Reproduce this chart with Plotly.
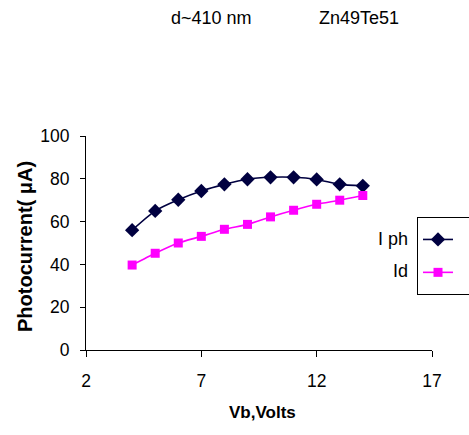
import plotly.graph_objects as go

vb = [4, 5, 6, 7, 8, 9, 10, 11, 12, 13, 14]
i_ph = [56, 65, 70.2, 74.3, 77.4, 79.8, 80.7, 80.7, 79.7, 77.4, 76.7]
i_d = [39.7, 45.2, 50.0, 53.1, 56.4, 58.7, 62.2, 65.3, 68.1, 70.0, 72.2]

x_ticks = [2, 7, 12, 17]
y_ticks = [0, 20, 40, 60, 80, 100]

FONT = "Liberation Sans, Arial, sans-serif"
W, H = 469, 435
L, R, T, B = 86, 37, 136, 85
pw, ph = W - L - R, H - T - B

def px_x(x):
    return (x - L) / pw

def px_y(y):
    return (H - B - y) / ph

fig = go.Figure()
fig.add_trace(go.Scatter(
    x=vb, y=i_ph, mode="lines+markers", name=" ",
    line=dict(color="#000040", width=1.6, shape="spline", smoothing=0.6),
    marker=dict(symbol="diamond", size=11, color="#000040"),
))
fig.add_trace(go.Scatter(
    x=vb, y=i_d, mode="lines+markers", name=" ",
    line=dict(color="#FF00FF", width=1.6, shape="spline", smoothing=0.6),
    marker=dict(symbol="square", size=9, color="#FF00FF"),
))

fig.update_layout(
    width=W, height=H,
    margin=dict(l=L, r=R, t=T, b=B, pad=0, autoexpand=False),
    paper_bgcolor="white", plot_bgcolor="white",
    font=dict(family=FONT, size=17, color="black"),
    showlegend=True,
    legend=dict(
        x=px_x(417), y=px_y(217), xanchor="left", yanchor="top",
        bordercolor="black", borderwidth=1, bgcolor="white",
        font=dict(size=23), itemwidth=30, tracegroupgap=0,
    ),
    xaxis=dict(
        range=[2, 17], tickvals=x_ticks, ticks="outside", ticklen=6,
        tickcolor="black", showline=True, linecolor="black", linewidth=1,
        showgrid=False, zeroline=False, ticklabelstandoff=9,
        tickfont=dict(size=17.5),
    ),
    yaxis=dict(
        range=[0, 100], tickvals=y_ticks, ticks="outside", ticklen=5,
        tickcolor="black", showline=True, linecolor="black", linewidth=1,
        showgrid=False, zeroline=False, ticklabelstandoff=7,
        tickfont=dict(size=17.5),
    ),
)

ann = [
    dict(text="d~410 nm", x=px_x(211), y=px_y(18), size=18, bold=False, anchor="center"),
    dict(text="Zn49Te51", x=px_x(359), y=px_y(18), size=18, bold=False, anchor="center"),
    dict(text="Vb,Volts", x=px_x(262), y=px_y(412), size=17, bold=True, anchor="center"),
    dict(text="I ph", x=px_x(410), y=px_y(239), size=18, bold=False, anchor="right"),
    dict(text="Id", x=px_x(410), y=px_y(271), size=18, bold=False, anchor="right"),
]
for a in ann:
    fig.add_annotation(
        text=("<b>%s</b>" % a["text"]) if a["bold"] else a["text"],
        x=a["x"], y=a["y"], xref="paper", yref="paper",
        xanchor=a["anchor"], yanchor="middle", showarrow=False,
        font=dict(family=FONT, size=a["size"], color="black"),
    )
fig.add_annotation(
    text="<b>Photocurrent( μA)</b>", x=px_x(25), y=px_y(247),
    xref="paper", yref="paper", xanchor="center", yanchor="middle",
    showarrow=False, textangle=-90,
    font=dict(family=FONT, size=20, color="black"),
)

fig.write_html("out.html")
